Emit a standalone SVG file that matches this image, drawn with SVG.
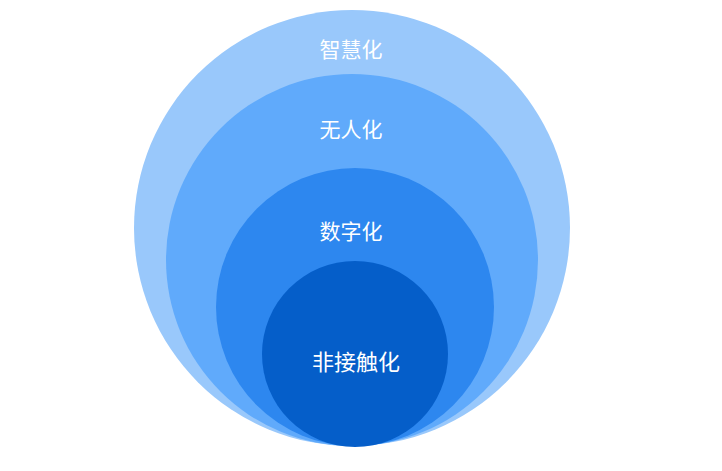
<svg xmlns="http://www.w3.org/2000/svg" width="722" height="471" viewBox="0 0 722 471">
<style>
.lbl{font-family:"Noto Sans CJK SC","Liberation Sans",sans-serif;font-size:21px;fill:#ffffff;text-anchor:middle;dominant-baseline:central}
</style>
<rect width="722" height="471" fill="#ffffff"/>
<g id="n-zhihui"><circle cx="352" cy="228" r="218" fill="#99c8fb"/><text class="lbl" x="351" y="48">智慧化</text></g>
<g id="n-wuren"><circle cx="352" cy="260" r="186" fill="#60aafb"/><text class="lbl" x="351" y="128">无人化</text></g>
<g id="n-shuzi"><circle cx="355" cy="307" r="139" fill="#2d87ef"/><text class="lbl" x="351" y="230">数字化</text></g>
<g id="n-feijiechu"><circle cx="355" cy="354" r="93" fill="#055ec9"/><text class="lbl" x="356" y="360" style="font-size:22px">非接触化</text></g>
<g id="connectors"/>
</svg>
